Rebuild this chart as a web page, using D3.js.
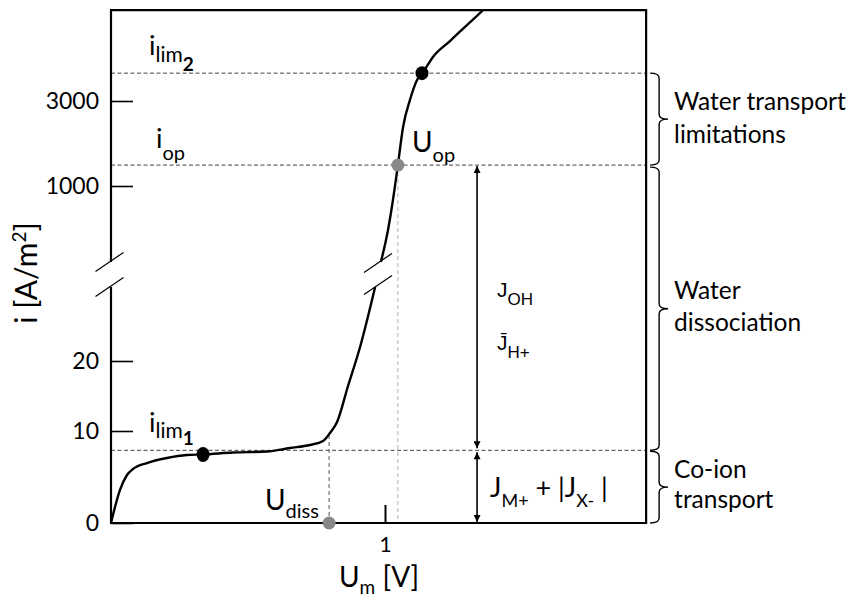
<!DOCTYPE html>
<html><head><meta charset="utf-8">
<script src="https://cdn.jsdelivr.net/npm/d3@7"></script>
<style>body{margin:0;background:#fff}svg{display:block}</style>
</head><body><div id="chart"></div>
<script>
// ---- data ----
const lowerU = [0, 0.0146, 0.0328, 0.0584, 0.0803, 0.131, 0.204, 0.277, 0.336, 0.445, 0.569, 0.653, 0.726, 0.774, 0.799, 0.825, 0.865, 0.909, 0.964];
const lowerI = [0, 1.74, 3.59, 5.22, 5.87, 6.52, 7.07, 7.39, 7.45, 7.66, 7.77, 8.15, 8.48, 8.91, 9.78, 11.29, 16.43, 22.0, 30.57];
const upperU = [0.985, 1.011, 1.029, 1.047, 1.066, 1.091, 1.117, 1.135, 1.153, 1.175, 1.237, 1.299, 1.358, 1.40];
const upperI = [375, 566, 834, 1310, 2143, 3038, 3934, 4300, 4710, 5297, 6512, 8011, 9720, 11500];
const yTicksLow = [0, 10, 20];
const yTicksHigh = [1000, 3000];
const xTicks = [1];
const iLim1 = 7.9, iOp = 1310, iLim2 = 4300;
const uDiss = 0.796, uOp = 1.047, uLim1 = 0.336, uLim2 = 1.135;
const iLim1Dot = 7.45, iDissCurve = 9.7;
const uArrow = 1.336;
const xMax = 1.953, iTop = 9700, lowBreak = 30.57, highBreak = 375;
const regionLabels = [
  ["Water transport", "limitations"],
  ["Water", "dissociation"],
  ["Co-ion", "transport"]
];

// ---- scales ----
const W = 853, H = 597;
const x = d3.scaleLinear().domain([0, 1]).range([111, 385]);
const yLow = d3.scaleLinear().domain([0, 10, 20, 30]).range([523, 431, 361, 291]);
const yHigh = d3.scaleLog().domain([1000, 3000]).range([186, 101]);

const FONT = "Lato, 'Open Sans', sans-serif";
const ARIAL = "'Liberation Sans', Arial, sans-serif";
const svg = d3.select("#chart").append("svg").attr("width", W).attr("height", H)
  .attr("font-family", FONT);

const pLeft = x(0), pRight = x(xMax), pTop = yHigh(iTop), pBottom = yLow(0);

svg.append("clipPath").attr("id", "clip").append("rect")
  .attr("x", pLeft).attr("y", pTop).attr("width", pRight - pLeft).attr("height", pBottom - pTop);

// ---- dashed guide lines ----
const dash = svg.append("g").attr("fill", "none");
[yHigh(iLim2), yHigh(iOp), yLow(iLim1)].forEach(yy => {
  dash.append("line").attr("x1", pLeft).attr("x2", pRight).attr("y1", yy).attr("y2", yy)
    .attr("stroke", "#444").attr("stroke-width", 1).attr("stroke-dasharray", "4,2.5");
});
dash.append("line").attr("x1", x(uDiss)).attr("x2", x(uDiss)).attr("y1", yLow(0)).attr("y2", yLow(iDissCurve))
  .attr("stroke", "#555").attr("stroke-width", 1).attr("stroke-dasharray", "4,3");
dash.append("line").attr("x1", x(uOp)).attr("x2", x(uOp)).attr("y1", yHigh(iOp)).attr("y2", yLow(0))
  .attr("stroke", "#b0b0b0").attr("stroke-width", 1).attr("stroke-dasharray", "4,3");

// ---- frame ----
const frame = svg.append("g").attr("stroke", "#000").attr("stroke-width", 2.2).attr("fill", "none");
frame.append("line").attr("x1", pLeft - 1).attr("x2", pRight + 1).attr("y1", pTop).attr("y2", pTop);
frame.append("line").attr("x1", pRight).attr("x2", pRight).attr("y1", pTop).attr("y2", pBottom);
frame.append("line").attr("x1", pLeft - 1).attr("x2", pRight + 1).attr("y1", pBottom).attr("y2", pBottom);
frame.append("line").attr("x1", pLeft).attr("x2", pLeft).attr("y1", pTop).attr("y2", yHigh(highBreak));
frame.append("line").attr("x1", pLeft).attr("x2", pLeft).attr("y1", yLow(lowBreak)).attr("y2", pBottom);

// ---- axes ----
function styleAxis(g, size) {
  g.select(".domain").remove();
  g.selectAll(".tick line").attr("stroke", "#000").attr("stroke-width", 1.6);
  g.selectAll(".tick text").attr("font-family", FONT).attr("font-size", size).attr("fill", "#000");
}
svg.append("g").attr("transform", `translate(${pLeft},0)`)
  .call(d3.axisLeft(yLow).tickValues(yTicksLow).tickSizeInner(-22).tickSizeOuter(0).tickPadding(12).tickFormat(d3.format("d")))
  .call(g => styleAxis(g, 23));
svg.append("g").attr("transform", `translate(${pLeft},0)`)
  .call(d3.axisLeft(yHigh).tickValues(yTicksHigh).tickSizeInner(-22).tickSizeOuter(0).tickPadding(12).tickFormat(d3.format("d")))
  .call(g => styleAxis(g, 23));
svg.append("g").attr("transform", `translate(0,${pBottom})`)
  .call(d3.axisBottom(x).tickValues(xTicks).tickSizeInner(-18).tickSizeOuter(0).tickPadding(14).tickFormat(d3.format("d")))
  .call(g => { styleAxis(g, 21); g.selectAll(".tick line").attr("stroke-width", 2); });

// ---- break marks ----
function slash(cx, cy) {
  svg.append("line").attr("x1", cx - 14).attr("y1", cy + 9.5).attr("x2", cx + 14).attr("y2", cy - 9.5)
    .attr("stroke", "#000").attr("stroke-width", 1.2);
}
slash(pLeft - 1.5, yHigh(highBreak));
slash(pLeft - 1.5, yLow(lowBreak));
const bx = (x(upperU[0]) + x(lowerU[lowerU.length - 1])) / 2;
slash(bx, yHigh(highBreak) + 1);
slash(bx, yLow(lowBreak) - 2);

// ---- curve ----
const lowerData = lowerU.map((u, k) => [u, lowerI[k]]);
const upperData = upperU.map((u, k) => [u, upperI[k]]);
const curveG = svg.append("g").attr("clip-path", "url(#clip)").attr("fill", "none")
  .attr("stroke", "#000").attr("stroke-width", 2.4);
curveG.append("path").attr("d", d3.line().x(d => x(d[0])).y(d => yLow(d[1])).curve(d3.curveMonotoneX)(lowerData));
curveG.append("path").attr("d", d3.line().x(d => x(d[0])).y(d => yHigh(d[1])).curve(d3.curveMonotoneX)(upperData));

// ---- dots ----
svg.append("ellipse").attr("cx", x(uLim1)).attr("cy", yLow(iLim1Dot)).attr("rx", 6.5).attr("ry", 7.5).attr("fill", "#000");
svg.append("ellipse").attr("cx", x(uLim2)).attr("cy", yHigh(iLim2)).attr("rx", 6.5).attr("ry", 7).attr("fill", "#000");
svg.append("circle").attr("cx", x(uOp)).attr("cy", yHigh(iOp)).attr("r", 6.5).attr("fill", "#888");
svg.append("circle").attr("cx", x(uDiss)).attr("cy", yLow(0)).attr("r", 6.5).attr("fill", "#888");

// ---- double arrows ----
const defs = svg.append("defs");
defs.append("marker").attr("id", "ah").attr("viewBox", "0 0 10 10").attr("refX", 10).attr("refY", 5)
  .attr("markerWidth", 9).attr("markerHeight", 7).attr("markerUnits", "userSpaceOnUse").attr("orient", "auto-start-reverse")
  .append("path").attr("d", "M0,0 L10,5 L0,10 Z").attr("fill", "#000");
function dArrow(y1, y2) {
  svg.append("line").attr("x1", x(uArrow)).attr("x2", x(uArrow)).attr("y1", y1).attr("y2", y2)
    .attr("stroke", "#000").attr("stroke-width", 1.6)
    .attr("marker-start", "url(#ah)").attr("marker-end", "url(#ah)");
}
dArrow(yHigh(iOp) + 1, yLow(iLim1) - 2);
dArrow(yLow(iLim1) + 2, yLow(0) - 1);

// ---- braces ----
function brace(y0, y1) {
  const x0 = pRight + 4, x1 = pRight + 13, x2 = pRight + 22, r = 5, ym = (y0 + y1) / 2;
  svg.append("path").attr("fill", "none").attr("stroke", "#000").attr("stroke-width", 1.4)
    .attr("d", `M${x0},${y0} Q${x1},${y0} ${x1},${y0 + r} L${x1},${ym - r} Q${x1},${ym} ${x2},${ym} Q${x1},${ym} ${x1},${ym + r} L${x1},${y1 - r} Q${x1},${y1} ${x0},${y1}`);
  return ym;
}
const braceSpans = [[yHigh(iLim2), yHigh(iOp)], [yHigh(iOp) + 2, yLow(iLim1)], [yLow(iLim1) + 1, yLow(0)]];
const labelBase = [[110, 143], [299, 331], [478, 508]];
braceSpans.forEach((s, k) => {
  brace(s[0], s[1]);
  regionLabels[k].forEach((t, j) => {
    svg.append("text").attr("x", pRight + 28).attr("y", labelBase[k][j]).attr("font-size", 24.5).attr("fill", "#000").text(t);
  });
});

// ---- rich labels ----
function rich(xx, parts, family) {
  const t = svg.append("text").attr("x", xx).attr("fill", "#000");
  if (family) t.attr("font-family", family);
  parts.forEach(p => {
    const s = t.append("tspan").attr("y", p.y).attr("font-size", p.s).text(p.t);
    if (p.b) s.attr("font-weight", 700);
  });
  return t;
}
rich(149, [{t: "i", y: 55, s: 27}, {t: "lim", y: 62, s: 21}, {t: "2", y: 71, s: 19, b: true}]);
rich(156, [{t: "i", y: 148, s: 27}, {t: "op", y: 160, s: 20}]);
rich(149, [{t: "i", y: 432, s: 27}, {t: "lim", y: 438, s: 21}, {t: "1", y: 445, s: 19, b: true}]);
rich(412, [{t: "U", y: 152, s: 28}, {t: "op", y: 162, s: 20}]);
rich(265, [{t: "U", y: 510, s: 28}, {t: "diss", y: 518, s: 20}]);
rich(497, [{t: "J", y: 297, s: 21}, {t: "OH", y: 305, s: 17}], ARIAL);
rich(497, [{t: "J\u0304", y: 350, s: 21}, {t: "H+", y: 358, s: 17}], ARIAL);
rich(490, [{t: "J", y: 497, s: 27}, {t: "M+", y: 507, s: 18}, {t: " + |J", y: 497, s: 27}, {t: "X-", y: 507, s: 18}, {t: " |", y: 497, s: 27}]);

// axis titles
rich(339, [{t: "U", y: 587, s: 28}, {t: "m", y: 594, s: 19}, {t: " [V]", y: 587, s: 28}]);
const yt = svg.append("text").attr("transform", "translate(37,273) rotate(-90)").attr("text-anchor", "middle").attr("fill", "#000");
yt.append("tspan").attr("font-size", 30).text("i [A/m");
yt.append("tspan").attr("font-size", 19).attr("dy", -11).text("2");
yt.append("tspan").attr("font-size", 30).attr("dy", 11).text("]");
</script></body></html>
